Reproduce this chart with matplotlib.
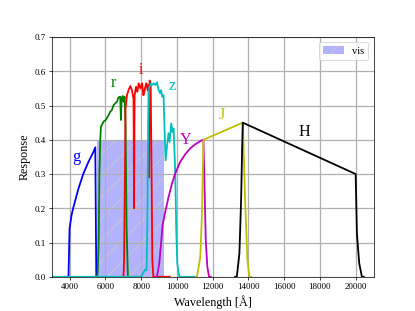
import numpy as np
import matplotlib
matplotlib.use("Agg")
import matplotlib.pyplot as plt
from matplotlib.patches import Rectangle

plt.rcParams["font.family"] = ["Liberation Serif", "DejaVu Serif"]

# filter curves (wavelength in A, response)
g_wl = [3900, 3930, 3990, 4100, 4210, 4490, 4770, 5050, 5330, 5430, 5485, 5550]
g_r = [0, 0, 0.141, 0.18, 0.204, 0.258, 0.302, 0.336, 0.365, 0.378, 0, 0]

r_wl = [5450, 5520, 5560, 5620, 5660, 5707, 5745, 5892, 6020, 6171, 6265, 6358,
        6450, 6637, 6730, 6823, 6865, 6900, 6960, 7010, 7067, 7123, 7180, 7255, 7350]
r_r = [0, 0, 0.01, 0.1, 0.3, 0.399, 0.438, 0.453, 0.458, 0.472, 0.482, 0.487,
       0.501, 0.511, 0.524, 0.526, 0.458, 0.52, 0.528, 0.511, 0.526, 0.438, 0.146, 0, 0]

i_wl = [6900, 7010, 7040, 7080, 7123, 7200, 7290, 7390, 7480, 7570, 7600, 7630,
        7710, 7780, 7860, 7950, 8050, 8120, 8175, 8230, 8290, 8360, 8410, 8440,
        8470, 8530, 8580, 8620, 8680, 9600]
i_r = [0, 0, 0.05, 0.25, 0.49, 0.53, 0.545, 0.557, 0.545, 0.52, 0.2, 0.53,
       0.555, 0.54, 0.565, 0.55, 0.565, 0.53, 0.54, 0.555, 0.565, 0.545, 0.56, 0.29,
       0.573, 0.56, 0.3, 0.05, 0, 0]

z_wl = [3000, 8000, 8100, 8200, 8300, 8340, 8390, 8440, 8467, 8550, 8620, 8700,
        8800, 8880, 8970, 9060, 9110, 9177, 9250, 9306, 9362, 9440, 9530, 9590,
        9680, 9754, 9810, 9866, 9905, 9960, 10017, 10130, 11100]
z_r = [0, 0, 0.01, 0.02, 0.02, 0.15, 0.45, 0.55, 0.555, 0.565, 0.56, 0.565,
       0.56, 0.568, 0.545, 0.536, 0.545, 0.526, 0.53, 0.428, 0.34, 0.38, 0.419, 0.394,
       0.448, 0.423, 0.433, 0.36, 0.30, 0.136, 0.039, 0, 0]

y_wl = [8800, 8880, 9010, 9125, 9195, 9345, 9530, 9720, 9905, 10185, 10465,
        10745, 11025, 11400, 11480, 11535, 11610, 11700, 11795, 11900]
y_r = [0, 0, 0.039, 0.107, 0.151, 0.19, 0.233, 0.272, 0.302, 0.336, 0.358,
       0.375, 0.387, 0.399, 0.40, 0.282, 0.107, 0.029, 0, 0]

j_wl = [11050, 11120, 11305, 11400, 11455, 11480, 13684, 13813, 13942, 14054, 14150]
j_r = [0, 0, 0.058, 0.185, 0.331, 0.40, 0.45, 0.224, 0.048, 0, 0]

h_wl = [13250, 13348, 13494, 13589, 13645, 13684, 20000, 20070, 20200, 20350, 20450]
h_r = [0, 0, 0.068, 0.224, 0.37, 0.45, 0.30, 0.126, 0.039, 0, 0]

bands = [
    ("g", g_wl, g_r, "b", 4380, 0.35),
    ("r", r_wl, r_r, "g", 6430, 0.567),
    ("i", i_wl, i_r, "r", 7960, 0.604),
    ("z", z_wl, z_r, "c", 9750, 0.557),
    ("Y", y_wl, y_r, "m", 10500, 0.40),
    ("J", j_wl, j_r, "y", 12490, 0.474),
    ("H", h_wl, h_r, "k", 17120, 0.425),
]

vis_lo, vis_hi, vis_top = 5500, 9250, 0.4

fig, ax = plt.subplots(figsize=(6.4, 4.8))

ax.add_patch(Rectangle((vis_lo, 0), vis_hi - vis_lo, vis_top,
                       facecolor=(0, 0, 1, 0.3), edgecolor="#c8c8c8",
                       linewidth=0, hatch="/", label="vis"))

for name, wl, resp, col, tx, ty in bands:
    ax.plot(wl, resp, color=col, lw=2)
    ax.text(tx, ty, name, color=col, fontsize=18, ha="center", va="center")

ax.set_xlim(3000, 21000)
ax.set_ylim(0, 0.7)
ax.set_xticks(np.arange(4000, 20001, 2000))
ax.set_xlabel("Wavelength [Å]", fontsize=13.5)
ax.set_ylabel("Response", fontsize=13.5)
ax.grid(True, color="#b0b0b0", lw=1.4)
ax.legend(loc="upper right", fontsize=11.5)

fig.savefig("out.png", dpi=64.85)
plt.close(fig)
